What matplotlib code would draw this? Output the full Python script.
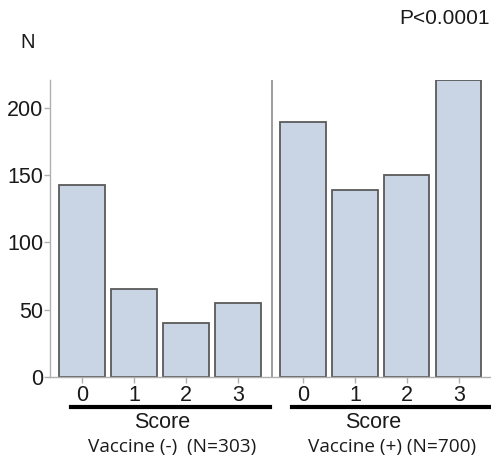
import matplotlib
matplotlib.use("Agg")
import matplotlib.pyplot as plt
from matplotlib.lines import Line2D

plt.rcParams['font.family'] = ['Liberation Sans', 'DejaVu Sans']

scores = ["0", "1", "2", "3"]
vacc_neg = [143, 65, 40, 55]
vacc_pos = [190, 139, 150, 221]
group_labels = ["Vaccine (-)  (N=303)", "Vaccine (+) (N=700)"]
p_text = "P<0.0001"
yticks = [0, 50, 100, 150, 200]

fig = plt.figure(figsize=(4.91, 4.59), dpi=100)
ax = fig.add_axes([0.102, 0.179, 0.896, 0.647])

xl = [0, 1, 2, 3]
xr = [4.25, 5.25, 6.25, 7.25]
fill = "#c9d5e5"
edge = "#5a5a5a"
ax.bar(xl, vacc_neg, width=0.87, color=fill, edgecolor=edge, linewidth=1.3)
ax.bar(xr, vacc_pos, width=0.87, color=fill, edgecolor=edge, linewidth=1.3)

ax.set_xlim(-0.615, 7.85)
ax.set_ylim(0, 221)
ax.axvline(3.65, color="#8c8c8c", linewidth=1.2)

for s in ["top", "right"]:
    ax.spines[s].set_visible(False)
for s in ["left", "bottom"]:
    ax.spines[s].set_color("#b0b0b0")
    ax.spines[s].set_linewidth(1.0)

ax.set_yticks(yticks)
ax.set_yticklabels([str(v) for v in yticks], fontsize=15.5)
ax.set_xticks(xl + xr)
ax.set_xticklabels(scores + scores, fontsize=15.5)
ax.tick_params(axis="both", colors="#b0b0b0", labelcolor="#1a1a1a", length=4, width=1)
ax.tick_params(axis="x", pad=2)
ax.tick_params(axis="y", pad=1)

yline = 1 - 406.5 / 459
for x0, x1 in [(71 / 491, 270 / 491), (292 / 491, 491 / 491)]:
    fig.add_artist(Line2D([x0, x1], [yline, yline], color="black", linewidth=3, transform=fig.transFigure))

for cx, sx, lab in [(172 / 491, 162 / 491, group_labels[0]), (392 / 491, 373 / 491, group_labels[1])]:
    fig.text(sx, 1 - 422 / 459, "Score", ha="center", va="center", fontsize=15.5, color="#1a1a1a")
    fig.text(cx, 1 - 447 / 459, lab, ha="center", va="center", fontsize=13.7,
             family=["Open Sans", "DejaVu Sans"], color="#1a1a1a")

fig.text(28 / 491, 1 - 42 / 459, "N", ha="center", va="center", fontsize=14.5, color="#1a1a1a")
fig.text(490 / 491, 1 - 18 / 459, p_text, ha="right", va="center", fontsize=15, color="#1a1a1a")

fig.savefig("out.png", dpi=100)
